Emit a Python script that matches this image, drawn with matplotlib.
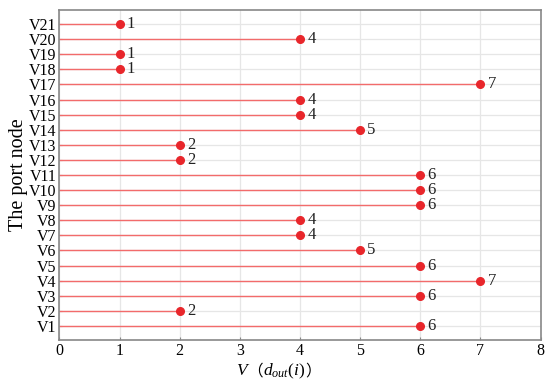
import matplotlib
matplotlib.use('Agg')
import matplotlib.pyplot as plt
from matplotlib.offsetbox import TextArea, HPacker, AnchoredOffsetbox

nodes = ['V%d' % i for i in range(1, 22)]
degree = [6, 2, 6, 7, 6, 5, 4, 4, 6, 6, 6, 2, 2, 5, 4, 4, 7, 1, 1, 4, 1]

plt.rcParams['font.family'] = ['Liberation Serif', 'Noto Sans CJK SC']
plt.rcParams['mathtext.fontset'] = 'custom'
plt.rcParams['mathtext.rm'] = 'Liberation Serif'
plt.rcParams['mathtext.it'] = 'Liberation Serif:italic'

fig = plt.figure(figsize=(5.5, 3.85), dpi=100)
ax = fig.add_axes([0.108, 0.117, 0.875, 0.857])

ypos = list(range(1, len(nodes) + 1))
ax.hlines(ypos, 0, degree, color='#f26b6b', lw=1.0, zorder=2)
ax.plot(degree, ypos, 'o', color='#e8262b', ms=5.5, zorder=3)
for d, y in zip(degree, ypos):
    ax.text(d + 0.12, y, str(d), va='center', ha='left', fontsize=12, color='#222222')

ax.set_xlim(0, 8)
ax.set_ylim(0.07, 21.93)
ax.set_yticks(ypos)
ax.set_yticklabels(nodes, fontsize=11.5)
ax.set_xticks(range(9))
ax.tick_params(axis='x', labelsize=11.5, direction='in', length=2, pad=2, color='#888888')
ax.tick_params(axis='y', direction='in', length=2, pad=2, color='#888888')
ax.grid(True, color='#e6e6e6', lw=0.9, zorder=0)
ax.set_axisbelow(True)
for s in ax.spines.values():
    s.set_color('#888888')
    s.set_linewidth(1.2)

ax.set_ylabel('The port node', fontsize=14.5, labelpad=1)

# x label assembled from pieces so the full-width brackets render
fs = 12.5
parts = [
    TextArea('V', textprops=dict(fontsize=fs, style='italic', family='Liberation Serif')),
    TextArea('（', textprops=dict(fontsize=fs * 0.9, family='Noto Sans CJK SC')),
    TextArea(r'$d_{out}(i)$', textprops=dict(fontsize=fs)),
    TextArea('）', textprops=dict(fontsize=fs * 0.9, family='Noto Sans CJK SC')),
]
label = HPacker(children=parts, align='baseline', pad=0, sep=0)
box = AnchoredOffsetbox(loc='upper center', child=label, frameon=False, pad=0,
                        bbox_to_anchor=(0.455, -0.066), bbox_transform=ax.transAxes,
                        borderpad=0)
ax.add_artist(box)

fig.savefig('out.png', dpi=100)
